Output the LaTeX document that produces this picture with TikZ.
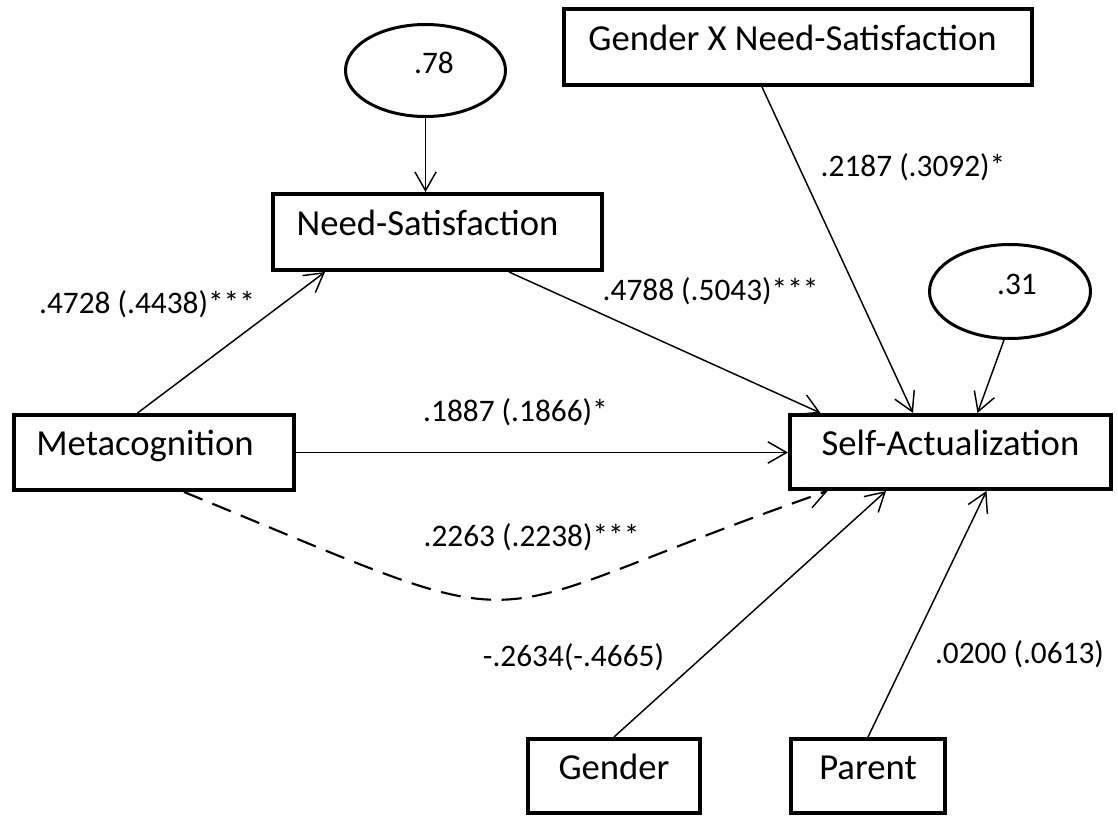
\documentclass[tikz,border=0pt]{standalone}
\usepackage{fontspec}
\setmainfont{Carlito}
\usetikzlibrary{arrows.meta,shapes.geometric,calc}

\begin{document}
\begin{tikzpicture}[x=0.75pt,y=-0.75pt,
  var/.style={draw, line width=3pt, rectangle, inner sep=0pt,
    font=\fontsize{27.5}{33}\selectfont, text height=0.75em, text depth=0.25em},
  err/.style={draw, line width=2.25pt, ellipse, inner sep=0pt,
    font=\fontsize{23.5}{28}\selectfont, text height=0.75em, text depth=0.25em},
  coef/.style={inner sep=0pt, font=\fontsize{23.5}{28}\selectfont,
    text height=0.75em, text depth=0.25em},
  link/.style={line width=1.1pt,
    -{Straight Barb[length=14pt,width=16pt,line width=1.1pt]}},
  indirect/.style={link, line width=1.6pt, dash pattern=on 15pt off 8pt},
]
\useasboundingbox (0,0) rectangle (1118,816);

% observed variables
\node[var, minimum width=246.75pt, minimum height=57pt] (NS) at (437.5,232)
  {Need-Satisfaction\hspace*{15pt}};
\node[var, minimum width=351pt, minimum height=57pt] (GxN) at (798,47)
  {Gender X Need-Satisfaction\hspace*{8.25pt}};
\node[var, minimum width=210pt, minimum height=56.25pt] (Meta) at (154,452.5)
  {Metacognition\hspace*{13.5pt}};
\node[var, minimum width=240.75pt, minimum height=55.5pt] (SA) at (950.5,452)
  {Self-Actualization};
\node[var, minimum width=129pt, minimum height=55.5pt] (Gender) at (614,776)
  {Gender};
\node[var, minimum width=115.5pt, minimum height=55.5pt] (Parent) at (868,776)
  {Parent};

% residual variances
\node[err, minimum width=120pt, minimum height=69pt] (E78) at (425.5,70.5)
  {\hspace*{12.75pt}.78};
\node[err, minimum width=120.75pt, minimum height=70.5pt] (E31) at (1010,291.5)
  {\hspace*{10.5pt}.31};

% paths
\draw[link] (E78.south) -- (E78.south |- NS.north);
\draw[link] ($(Meta.north)+(-16.5,0)$) -- ($(NS.south west)+(54,0)$);
\draw[link] ($(NS.south west)+(238,0)$) -- ($(SA.north west)+(32.5,0)$);
\draw[link] ($(GxN.south)+(-36,0)$) -- ($(SA.north)+(-37.5,0)$);
\draw[link] ($(E31.south)+(-6,0)$) -- ($(SA.north)+(27,0)$);
\draw[link] (Meta.east) -- (Meta.east -| SA.west);
\draw[indirect] ($(Meta.south west)+(172,0)$) .. controls (564,648) and (448,623)
  .. ($(SA.south west)+(39.6,0)$);
\draw[link] (Gender.north) -- ($(SA.south west)+(98,0)$);
\draw[link] (Parent.north) -- ($(SA.south)+(36,0)$);

% coefficients
\node[coef] (cMN) at (147,310) {.4728 (.4438)***};
\node[coef] (cNS) at (710.6,297) {.4788 (.5043)***};
\node[coef] (cGN) at (913,173) {.2187 (.3092)*};
\node[coef] (cMS) at (515.5,418) {.1887 (.1866)*};
\node[coef] (cInd) at (531.5,543) {.2263 (.2238)***};
\node[coef] (cG) at (573.5,663) {-.2634(-.4665)};
\node[coef] (cP) at (1019.5,660) {.0200 (.0613)};
\end{tikzpicture}
\end{document}
